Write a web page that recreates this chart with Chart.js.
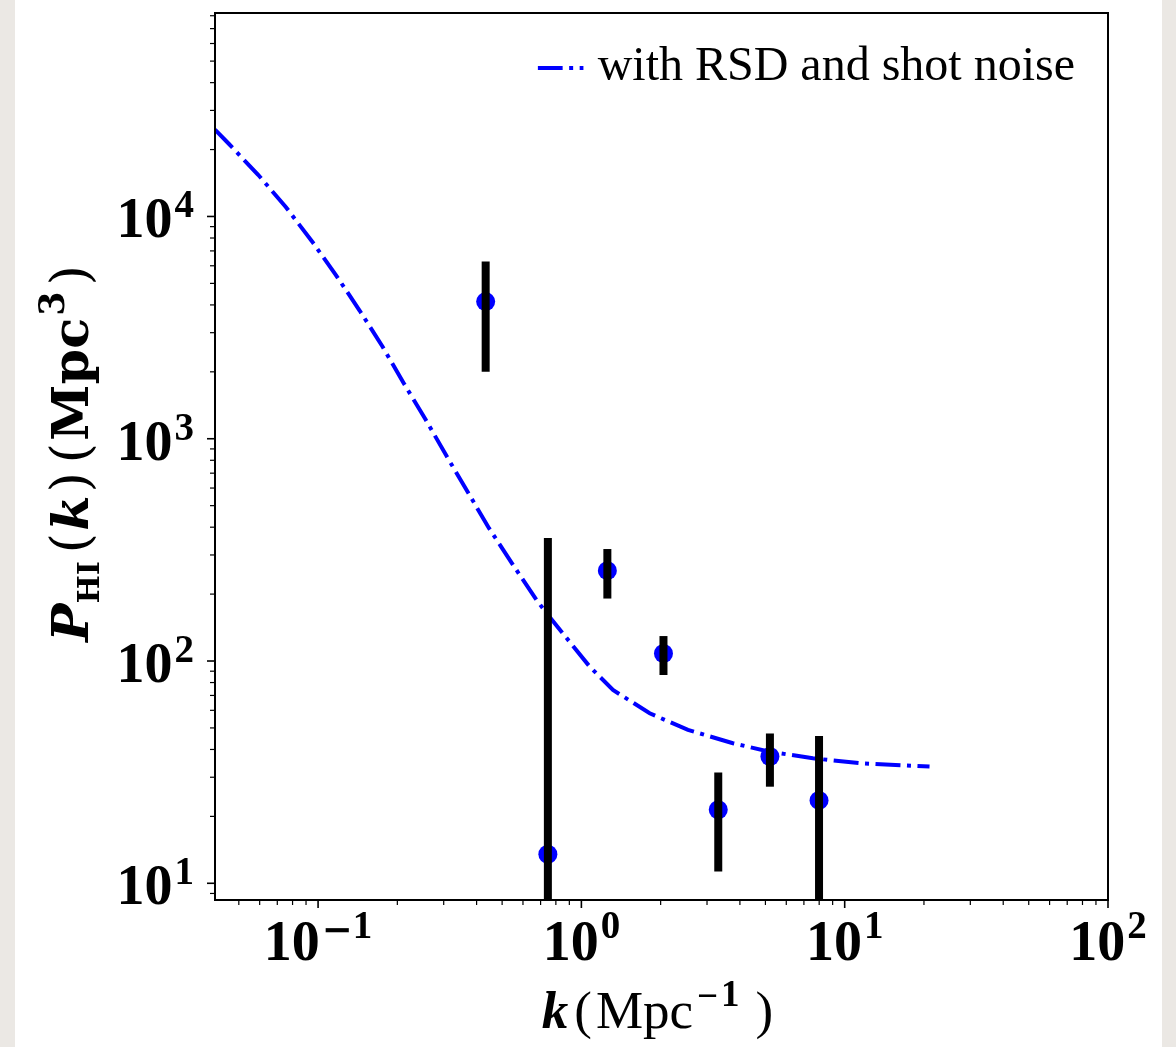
<!DOCTYPE html>
<html>
<head>
<meta charset="utf-8">
<script src="https://cdn.jsdelivr.net/npm/chart.js@4.4.1/dist/chart.umd.min.js"></script>
<style>
  html, body { margin: 0; padding: 0; }
  body {
    width: 1176px; height: 1047px; overflow: hidden;
    background: linear-gradient(to right, #ebe8e4 0, #ebe8e4 15px, #fff 15px, #fff 1162px, #ebe8e4 1162px);
  }
  #wrap { position: relative; width: 1176px; height: 1047px; }
</style>
</head>
<body>
<div id="wrap"><canvas id="powerChart" width="1176" height="1047"></canvas></div>
<script>
// measured band powers (k in Mpc^-1, P in Mpc^3) with 1-sigma errors
const kBins = [0.433, 0.746, 1.255, 2.05, 3.31, 5.20, 7.99];
const pMeasured = [4140, 13.5, 255, 108, 21.4, 37.2, 23.6];
const pErr = [2140, 344, 64, 21.5, 10.1, 10.0, 22.4];

// model curve: with RSD and shot noise
const kModel = [0.0406, 0.0459, 0.0592, 0.0754, 0.0949, 0.1167, 0.144, 0.1756, 0.2115, 0.2564,
  0.3073, 0.3711, 0.4458, 0.55, 0.6747, 0.747, 1.075, 1.318, 1.817, 2.54, 3.763, 5.187,
  7.573, 11.39, 21.0];
const pModel = [24550, 21180, 15400, 11030, 7719, 5466, 3764, 2600, 1779, 1217,
  837.5, 572.6, 396, 270.7, 188.4, 161, 94.4, 74.1, 58.2, 48.98, 42.66, 39.1,
  36.5, 34.7, 33.5];

// axis limits and labelled decades
const kRange = [0.0406, 100];
const pRange = [8.41, 82300];
const kDecades = [-1, 0, 1, 2];
const pDecades = [1, 2, 3, 4];
const legendLabel = 'with RSD and shot noise';

const TICK_FONT = 'bold 56px "Liberation Serif"';
const SUP_FONT = 'bold 39px "Liberation Serif"';
const SUP_MINUS = 'bold 37px "DejaVu Serif"';
const DASH = [25, 6.5, 4, 6.5];

function drawParts(ctx, parts, x, y, align) {
  let total = 0;
  parts.forEach(p => {
    ctx.font = p.f;
    p.w = ctx.measureText(p.t).width;
    total += (p.g || 0) + p.w;
  });
  let cx = align === 'center' ? x - total / 2 : (align === 'right' ? x - total : x);
  parts.forEach(p => {
    cx += p.g || 0;
    ctx.font = p.f;
    ctx.fillText(p.t, cx, y + (p.dy || 0));
    cx += p.w;
  });
}

function powerParts(n, dy) {
  const parts = [{ t: '10', f: TICK_FONT }];
  if (n < 0) {
    parts.push({ t: '\u2212', f: SUP_MINUS, dy: dy + 4, g: 2 });
    parts.push({ t: String(-n), f: SUP_FONT, dy: dy });
  } else {
    parts.push({ t: String(n), f: SUP_FONT, dy: dy, g: 2 });
  }
  return parts;
}

// vertical error bars, drawn over the markers
const errorBars = {
  id: 'errorBars',
  afterDatasetsDraw(chart) {
    const { ctx, chartArea: ca, scales: { x, y } } = chart;
    ctx.save();
    ctx.beginPath();
    ctx.rect(ca.left, ca.top, ca.right - ca.left, ca.bottom - ca.top);
    ctx.clip();
    ctx.strokeStyle = '#000';
    ctx.lineWidth = 8;
    ctx.lineCap = 'butt';
    kBins.forEach((k, i) => {
      const px = x.getPixelForValue(k);
      const hi = pMeasured[i] + pErr[i];
      const lo = pMeasured[i] - pErr[i];
      const yTop = y.getPixelForValue(hi);
      const yBot = lo > 0 ? y.getPixelForValue(lo) : ca.bottom + 20;
      ctx.beginPath();
      ctx.moveTo(px, yTop);
      ctx.lineTo(px, yBot);
      ctx.stroke();
    });
    ctx.restore();
  }
};

// frame, log ticks, labels, titles and legend
const axesDecor = {
  id: 'axesDecor',
  afterDraw(chart) {
    const { ctx, chartArea: ca, scales: { x, y } } = chart;
    ctx.save();
    ctx.strokeStyle = '#000';
    ctx.fillStyle = '#000';

    // minor / major ticks
    const drawLogTicks = (scale, lo, hi, isX) => {
      for (let d = Math.floor(Math.log10(lo)); d <= Math.ceil(Math.log10(hi)); d++) {
        for (let m = 1; m <= 9; m++) {
          const v = m * Math.pow(10, d);
          if (v < lo * 0.999 || v > hi * 1.001) continue;
          const p = scale.getPixelForValue(v);
          const len = m === 1 ? 8 : 5;
          ctx.lineWidth = m === 1 ? 1.6 : 1.2;
          ctx.beginPath();
          if (isX) { ctx.moveTo(p, ca.bottom); ctx.lineTo(p, ca.bottom + len); }
          else { ctx.moveTo(ca.left, p); ctx.lineTo(ca.left - len, p); }
          ctx.stroke();
        }
      }
    };
    drawLogTicks(x, kRange[0], kRange[1], true);
    drawLogTicks(y, pRange[0], pRange[1], false);

    // frame
    ctx.lineWidth = 2;
    ctx.strokeRect(ca.left, ca.top, ca.right - ca.left, ca.bottom - ca.top);

    ctx.textAlign = 'left';
    ctx.textBaseline = 'alphabetic';

    // tick labels
    kDecades.forEach(n => {
      drawParts(ctx, powerParts(n, -22), x.getPixelForValue(Math.pow(10, n)), ca.bottom + 60, 'center');
    });
    pDecades.forEach(n => {
      drawParts(ctx, powerParts(n, -20), ca.left - 21, y.getPixelForValue(Math.pow(10, n)) + 21, 'right');
    });

    // x title: k(Mpc^-1)
    drawParts(ctx, [
      { t: 'k', f: 'bold italic 53px "Liberation Serif"' },
      { t: '(', f: '53px "Liberation Serif"', g: 6 },
      { t: 'Mpc', f: '53px "Liberation Serif"', g: 4 },
      { t: '\u2212', f: 'bold 37px "Liberation Serif"', dy: -20, g: 4 },
      { t: '1', f: 'bold 37px "Liberation Serif"', dy: -22, g: 3 },
      { t: ')', f: '53px "Liberation Serif"', g: 16 }
    ], (ca.left + ca.right) / 2 - 4, ca.bottom + 128, 'center');

    // y title: P_HI(k)(Mpc^3)
    ctx.save();
    ctx.translate(88, (ca.top + ca.bottom) / 2 - 3);
    ctx.rotate(-Math.PI / 2);
    drawParts(ctx, [
      { t: 'P', f: 'bold italic 51px "DejaVu Serif"' },
      { t: 'HI', f: 'bold 30px "DejaVu Serif"', dy: 11, g: 0 },
      { t: '(', f: '52px "DejaVu Serif"', g: 8 },
      { t: 'k', f: 'bold italic 51px "DejaVu Serif"', g: 2 },
      { t: ')', f: '52px "DejaVu Serif"', g: 3 },
      { t: '(', f: '52px "DejaVu Serif"', g: 9 },
      { t: 'Mpc', f: 'bold 51px "DejaVu Serif"', g: 2 },
      { t: '3', f: 'bold 35px "DejaVu Serif"', dy: -24, g: 2 },
      { t: ')', f: '52px "DejaVu Serif"', g: 6 }
    ], 0, 0, 'center');
    ctx.restore();

    // legend
    ctx.font = '48px "Liberation Serif"';
    const textRight = ca.right - 33;
    const tw = ctx.measureText(legendLabel).width;
    const tx = textRight - tw;
    ctx.fillText(legendLabel, tx, ca.top + 67);
    ctx.beginPath();
    ctx.rect(tx - 60, ca.top + 40, 46, 30);
    ctx.clip();
    ctx.strokeStyle = '#0000ff';
    ctx.lineWidth = 4;
    ctx.setLineDash(DASH);
    ctx.beginPath();
    ctx.moveTo(tx - 60, ca.top + 55);
    ctx.lineTo(tx - 14, ca.top + 55);
    ctx.stroke();
    ctx.restore();
  }
};

const ctx = document.getElementById('powerChart').getContext('2d');
const powerChart = new Chart(ctx, {
  type: 'scatter',
  data: {
    datasets: [
      {
        label: 'data',
        data: kBins.map((k, i) => ({ x: k, y: pMeasured[i] })),
        backgroundColor: '#0000ff',
        borderWidth: 0,
        pointRadius: 9.5,
        pointHoverRadius: 9.5,
        order: 0
      },
      {
        label: legendLabel,
        data: kModel.map((k, i) => ({ x: k, y: pModel[i] })),
        showLine: true,
        borderColor: '#0000ff',
        borderWidth: 4,
        borderDash: DASH,
        borderCapStyle: 'butt',
        pointRadius: 0,
        tension: 0,
        order: 1
      }
    ]
  },
  options: {
    responsive: false,
    animation: false,
    devicePixelRatio: 1,
    layout: { padding: { left: 215, top: 13, right: 68, bottom: 147 } },
    plugins: { legend: { display: false }, tooltip: { enabled: false } },
    scales: {
      x: { type: 'logarithmic', min: kRange[0], max: kRange[1], display: false },
      y: { type: 'logarithmic', min: pRange[0], max: pRange[1], display: false }
    }
  },
  plugins: [errorBars, axesDecor]
});
</script>
</body>
</html>
